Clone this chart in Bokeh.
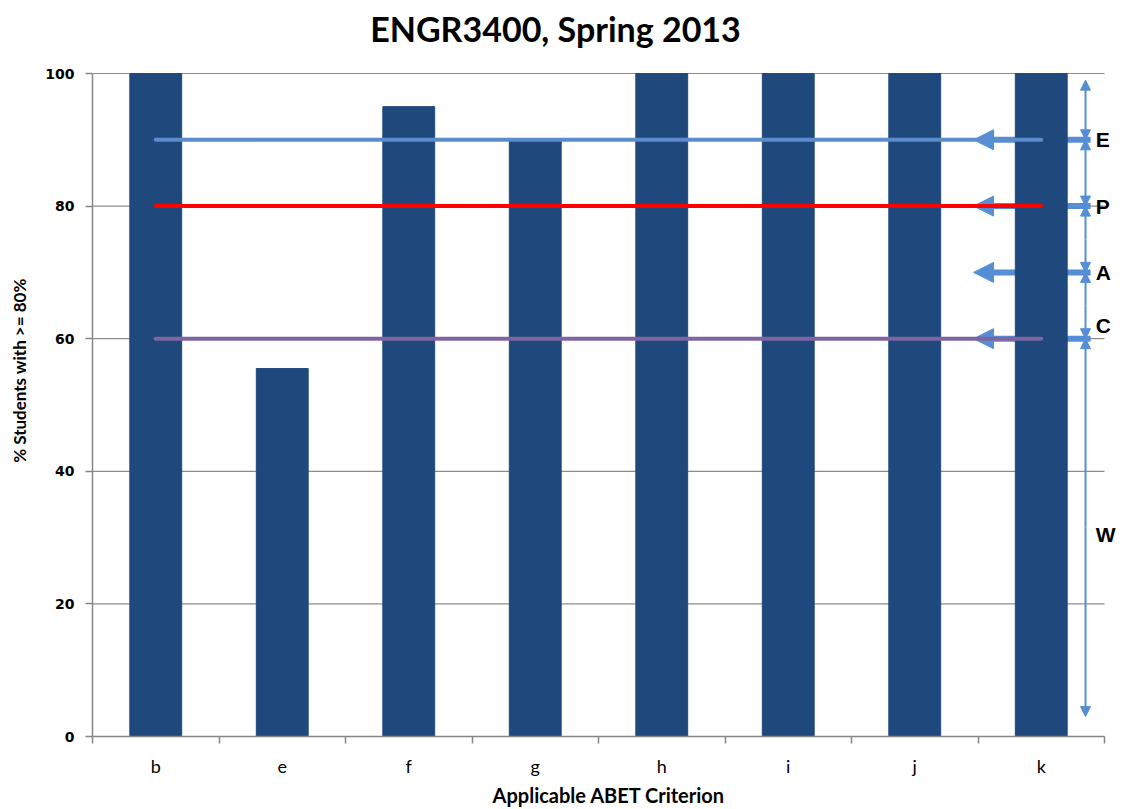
from bokeh.plotting import figure
from bokeh.models import (Range1d, FixedTicker, Arrow, NormalHead, Label)
from bokeh.embed import file_html
from bokeh.resources import INLINE
import numpy as np

# ---- data ----
categories = ["b", "e", "f", "g", "h", "i", "j", "k"]
pct_students = [100, 55.5, 95, 90, 100, 100, 100, 100]

threshold_names = ["E", "P", "C"]
threshold_values = [90, 80, 60]
threshold_colors = ["#5B8CCB", "#FF0000", "#8064A2"]

band_names = ["E", "P", "A", "C", "W"]
band_edges = [100, 90, 80, 70, 60, 0]
arrow_levels = [90, 80, 70, 60]
y_ticks = [0, 20, 40, 60, 80, 100]
chart_title = "ENGR3400, Spring 2013"

n = len(categories)
centers = np.arange(n) + 0.5
y_max = y_ticks[-1]

# frame spans the whole canvas height above the x axis; the y range is padded
# above 100 so the title can sit inside the frame
p = figure(width=1125, height=809, output_backend="svg", toolbar_location=None,
           x_range=Range1d(0, n + 0.166), y_range=Range1d(0, y_max * 736 / 663),
           min_border_left=92, min_border_right=0, min_border_top=0,
           min_border_bottom=73, title=None)
p.outline_line_color = None
p.background_fill_color = "white"

p.add_layout(Label(x=n / 2, y=y_max, x_offset=-43, y_offset=45, text=chart_title,
                   text_font="Lato", text_font_size="34px", text_font_style="bold",
                   text_color="black", text_align="center", text_baseline="middle"))

# axes
xa = p.xaxis[0]
xa.bounds = (0, n)
xa.ticker = FixedTicker(ticks=list(centers), minor_ticks=list(range(n + 1)))
xa.major_label_overrides = {float(c): cat for c, cat in zip(centers, categories)}
xa.major_tick_out = 0
xa.major_tick_in = 0
xa.minor_tick_out = 7
xa.minor_tick_in = 0
xa.minor_tick_line_color = "#868686"
xa.minor_tick_line_width = 1.5
xa.axis_line_color = "#868686"
xa.axis_line_width = 1.5
xa.major_label_text_font = "Lato"
xa.major_label_text_font_size = "18px"
xa.major_label_text_color = "black"
xa.major_label_standoff = 11
xa.axis_label = "Applicable ABET Criterion"
xa.axis_label_text_font = "Lato"
xa.axis_label_text_font_size = "20px"
xa.axis_label_text_font_style = "bold"
xa.axis_label_text_color = "black"
xa.axis_label_standoff = 3

ya = p.yaxis[0]
ya.bounds = (0, y_max)
ya.ticker = FixedTicker(ticks=y_ticks, minor_ticks=[])
ya.major_tick_out = 7
ya.major_tick_in = 0
ya.major_tick_line_color = "#868686"
ya.major_tick_line_width = 1.5
ya.axis_line_color = "#868686"
ya.axis_line_width = 1.5
ya.major_label_text_font = "DejaVu Sans"
ya.major_label_text_font_style = "bold"
ya.major_label_text_font_size = "14px"
ya.major_label_text_color = "black"
ya.major_label_standoff = 11
ya.axis_label = "% Students with  >= 80%"
ya.axis_label_text_font = "Lato"
ya.axis_label_text_font_size = "17px"
ya.axis_label_text_font_style = "bold"
ya.axis_label_text_color = "black"
ya.axis_label_standoff = 12

p.xgrid.grid_line_color = None
p.ygrid.grid_line_color = None

# horizontal gridlines limited to the category area
grid_y = [t for t in y_ticks if t > 0]
p.segment(x0=[0] * len(grid_y), x1=[n] * len(grid_y), y0=grid_y, y1=grid_y,
          line_color="#8C8C8C", line_width=1.2, level="underlay")

arrow_color = "#558ED5"

# horizontal arrows (behind bars)
for lvl in arrow_levels:
    p.add_layout(Arrow(x_start=n - 0.11, y_start=lvl, x_end=n - 1.035, y_end=lvl,
                       line_color=arrow_color, line_width=6,
                       end=NormalHead(size=20, fill_color=arrow_color,
                                      line_color=arrow_color, line_width=1),
                       level="underlay"))

# bars
p.vbar(x=centers, top=pct_students, width=0.41, bottom=0,
       fill_color="#1F497D", line_color="#1F497D")

# threshold lines
for name, val, col in zip(threshold_names, threshold_values, threshold_colors):
    p.line(x=[centers[0], centers[-1]], y=[val, val], line_color=col,
           line_width=4, line_cap="round")

# vertical double arrows
xv = n - 0.15
for top, bot in zip(band_edges[:-1], band_edges[1:]):
    t = top - 1 if top == 100 else top
    b = bot + 3 if bot == 0 else bot
    for tip in (t, b):
        p.add_layout(Arrow(x_start=xv, y_start=(t + b) / 2, x_end=xv, y_end=tip,
                           line_color=arrow_color, line_width=2,
                           end=NormalHead(size=10, fill_color=arrow_color,
                                          line_color=arrow_color)))

# band labels
label_y = {"E": 90, "P": 80, "A": 70, "C": 62, "W": 30.5}
for name in band_names:
    p.add_layout(Label(x=n - 0.07, y=label_y[name], text=name,
                       text_font="Liberation Sans", text_font_style="bold",
                       text_font_size="21px", text_color="black",
                       text_baseline="middle", text_align="left"))

open("out.html", "w").write(file_html(p, INLINE))
